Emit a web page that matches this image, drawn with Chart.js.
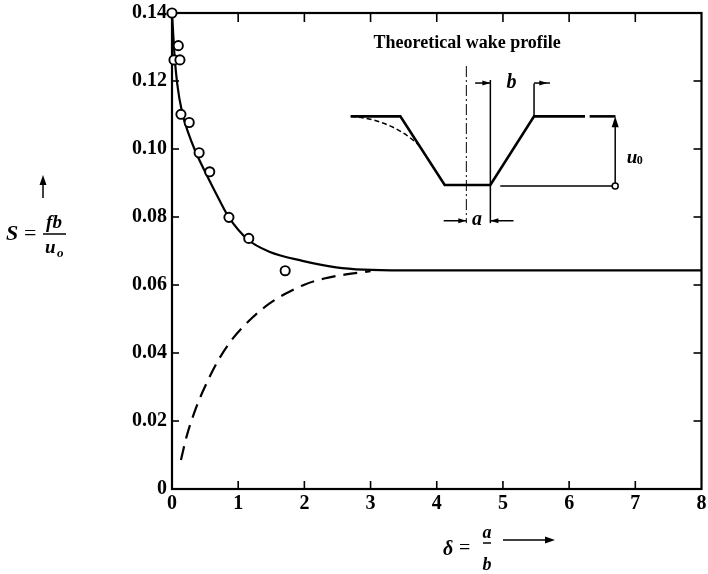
<!DOCTYPE html>
<html>
<head>
<meta charset="utf-8">
<script src="https://cdn.jsdelivr.net/npm/chart.js@4.4.1/dist/chart.umd.min.js"></script>
<style>
  html, body { margin: 0; padding: 0; background: #fff; }
  #wrap { width: 708px; height: 574px; }
</style>
</head>
<body>
<div id="wrap"><canvas id="wakeChart" width="708" height="574"></canvas></div>
<script>
// Measured points (open circles)
const measuredDelta = [0, 0.03, 0.095, 0.12, 0.135, 0.26, 0.41, 0.57, 0.86, 1.16, 1.71];
const measuredS = [0.140, 0.1262, 0.1304, 0.1262, 0.1102, 0.1078, 0.0989, 0.0933, 0.0799, 0.0737, 0.0642];

// Theory, trapezoidal wake (solid)
const upperDelta = [0, 0.04, 0.08, 0.15, 0.25, 0.35, 0.52, 0.70, 0.85, 1.15, 1.47, 1.97, 2.48, 2.9, 3.5, 8];
const upperS = [0.140, 0.127, 0.119, 0.111, 0.1045, 0.0995, 0.0925, 0.0856, 0.0802, 0.0733, 0.0698, 0.0671, 0.0652, 0.0645, 0.0643, 0.0643];

// Theory, rounded wake (dashed)
const lowerDelta = [0.135, 0.22, 0.37, 0.52, 0.70, 0.92, 1.22, 1.47, 1.72, 2.0, 2.3, 2.63, 3.0];
const lowerS = [0.0085, 0.0154, 0.0242, 0.0310, 0.0379, 0.0443, 0.0505, 0.0545, 0.0575, 0.0601, 0.0619, 0.0631, 0.0641];

const xTicks = [0, 1, 2, 3, 4, 5, 6, 7, 8];
const yTicks = [0, 0.02, 0.04, 0.06, 0.08, 0.10, 0.12, 0.14];

const SERIF = '"Liberation Serif", "Times New Roman", serif';
const toXY = (xs, ys) => xs.map((v, i) => ({ x: v, y: ys[i] }));

function line(ctx, x1, y1, x2, y2) {
    ctx.beginPath();
    ctx.moveTo(x1, y1);
    ctx.lineTo(x2, y2);
    ctx.stroke();
}

function arrowHead(ctx, x, y, angle, len, half) {
    ctx.save();
    ctx.translate(x, y);
    ctx.rotate(angle);
    ctx.beginPath();
    ctx.moveTo(0, 0);
    ctx.lineTo(-len, -half);
    ctx.lineTo(-len, half);
    ctx.closePath();
    ctx.fill();
    ctx.restore();
}

// frame with inward ticks on all four sides
const framePlugin = {
    id: 'frame',
    beforeDatasetsDraw(chart) {
        const { ctx, chartArea: a, scales: { x, y } } = chart;
        ctx.save();
        ctx.strokeStyle = '#000';
        ctx.lineWidth = 2.2;
        ctx.strokeRect(a.left, a.top, a.right - a.left, a.bottom - a.top);
        ctx.lineWidth = 1.6;
        xTicks.slice(1, -1).forEach(v => {
            const px = x.getPixelForValue(v);
            line(ctx, px, a.bottom, px, a.bottom - 8);
            line(ctx, px, a.top, px, a.top + 9);
        });
        yTicks.slice(1, -1).forEach(v => {
            const py = y.getPixelForValue(v);
            line(ctx, a.left, py, a.left + 7, py);
            line(ctx, a.right, py, a.right - 8, py);
        });
        // last x label runs off the page edge, so chart.js must not reserve room for it
        const last = xTicks[xTicks.length - 1];
        ctx.fillStyle = '#000';
        ctx.font = 'bold 20px ' + SERIF;
        ctx.textAlign = 'center';
        ctx.textBaseline = 'middle';
        ctx.fillText(String(last), x.getPixelForValue(last), a.bottom + 15);
        ctx.restore();
    }
};

// inset sketch of the wake profile + axis titles
const insetPlugin = {
    id: 'wakeInset',
    afterDatasetsDraw(chart) {
        const { ctx, scales: { x, y } } = chart;
        const X = v => x.getPixelForValue(v);
        const Y = v => y.getPixelForValue(v);
        const yTop = 0.1096, yBot = 0.0894, yB = 0.1194, yA = 0.0789;

        ctx.save();
        ctx.strokeStyle = '#000';
        ctx.fillStyle = '#000';
        ctx.lineJoin = 'miter';

        ctx.font = 'bold 18px ' + SERIF;
        ctx.textAlign = 'center';
        ctx.textBaseline = 'middle';
        ctx.fillText('Theoretical wake profile', X(4.46), Y(0.1312));

        // trapezoid profile
        ctx.lineWidth = 2.6;
        ctx.beginPath();
        [[2.70, yTop], [3.45, yTop], [4.12, yBot], [4.81, yBot], [5.47, yTop], [6.24, yTop]]
            .forEach(([dx, dy], i) => i ? ctx.lineTo(X(dx), Y(dy)) : ctx.moveTo(X(dx), Y(dy)));
        ctx.stroke();
        line(ctx, X(6.31), Y(yTop), X(6.70), Y(yTop));

        // rounded profile (dashed)
        ctx.lineWidth = 1.5;
        ctx.setLineDash([5, 3]);
        ctx.beginPath();
        ctx.moveTo(X(2.70), Y(yTop));
        ctx.quadraticCurveTo(X(3.30), Y(0.1088), X(3.72), Y(0.1013));
        ctx.stroke();

        // centre line (dash-dot)
        ctx.lineWidth = 1;
        ctx.setLineDash([11, 3, 2, 3]);
        line(ctx, X(4.447), Y(0.1244), X(4.447), Y(0.0782));
        ctx.setLineDash([]);

        // extension lines
        ctx.lineWidth = 1.5;
        line(ctx, X(4.81), Y(0.1203), X(4.81), Y(0.0782));
        line(ctx, X(5.47), Y(0.1193), X(5.47), Y(yTop));
        line(ctx, X(4.96), Y(0.0891), X(6.696), Y(0.0891));

        // b dimension
        line(ctx, X(4.58), Y(yB), X(4.81), Y(yB));
        arrowHead(ctx, X(4.81), Y(yB), 0, 8, 2.5);
        line(ctx, X(5.47), Y(yB), X(5.71), Y(yB));
        arrowHead(ctx, X(5.67), Y(yB), 0, 8, 2.5);

        // a dimension
        line(ctx, X(4.105), Y(yA), X(4.447), Y(yA));
        arrowHead(ctx, X(4.447), Y(yA), 0, 8, 2.5);
        line(ctx, X(5.16), Y(yA), X(4.81), Y(yA));
        arrowHead(ctx, X(4.81), Y(yA), Math.PI, 8, 2.5);

        // u0 arrow
        line(ctx, X(6.696), Y(0.0891), X(6.696), Y(yTop) + 4);
        arrowHead(ctx, X(6.696), Y(yTop), -Math.PI / 2, 11, 3.5);
        ctx.beginPath();
        ctx.arc(X(6.696), Y(0.0891), 3, 0, Math.PI * 2);
        ctx.fillStyle = '#fff';
        ctx.fill();
        ctx.stroke();
        ctx.fillStyle = '#000';

        ctx.font = 'italic bold 20px ' + SERIF;
        ctx.fillText('b', X(5.13), Y(yB));
        ctx.fillText('a', X(4.61), Y(yA) - 1);
        ctx.textAlign = 'left';
        ctx.font = 'italic bold 19px ' + SERIF;
        ctx.fillText('u', X(6.87), Y(0.0973));
        ctx.font = 'bold 12px ' + SERIF;
        ctx.fillText('0', X(6.87) + 10, Y(0.0973) + 3);

        // y-axis title: S = fb / u_o
        ctx.lineWidth = 1.5;
        line(ctx, 43, 198, 43, 182);
        arrowHead(ctx, 43, 175, -Math.PI / 2, 10, 3.5);
        ctx.textBaseline = 'alphabetic';
        ctx.font = 'italic bold 22px ' + SERIF;
        ctx.fillText('S', 6, 240);
        ctx.font = '22px ' + SERIF;
        ctx.fillText('=', 24, 240);
        ctx.font = 'italic bold 19px ' + SERIF;
        ctx.textAlign = 'center';
        ctx.fillText('fb', 54, 228);
        line(ctx, 43, 234, 66, 234);
        ctx.textAlign = 'left';
        ctx.fillText('u', 45, 253);
        ctx.font = 'italic bold 13px ' + SERIF;
        ctx.fillText('o', 57, 257);

        // x-axis title: delta = a / b
        ctx.font = 'italic bold 20px ' + SERIF;
        ctx.fillText('\u03b4', 443, 555);
        ctx.font = '20px ' + SERIF;
        ctx.fillText('=', 459, 554);
        ctx.font = 'italic bold 18px ' + SERIF;
        ctx.textAlign = 'center';
        ctx.fillText('a', 487, 538);
        line(ctx, 483, 543, 491, 543);
        ctx.fillText('b', 487, 570);
        line(ctx, 503, 540, 548, 540);
        arrowHead(ctx, 555, 540, 0, 10, 3.5);
        ctx.restore();
    }
};

const tickFont = { family: SERIF, size: 20, weight: 'bold' };

new Chart(document.getElementById('wakeChart'), {
    type: 'line',
    data: {
        datasets: [{
            label: 'Measured',
            type: 'scatter',
            data: toXY(measuredDelta, measuredS),
            pointRadius: 4.6,
            pointBackgroundColor: '#fff',
            pointBorderColor: '#000',
            pointBorderWidth: 1.9,
            showLine: false,
            clip: false,
            order: 0
        }, {
            label: 'Trapezoidal profile',
            data: toXY(upperDelta, upperS),
            borderColor: '#000',
            borderWidth: 2.2,
            pointRadius: 0,
            cubicInterpolationMode: 'monotone',
            fill: false,
            clip: false,
            order: 1
        }, {
            label: 'Rounded profile',
            data: toXY(lowerDelta, lowerS),
            borderColor: '#000',
            borderWidth: 2.2,
            borderDash: [14, 8],
            pointRadius: 0,
            cubicInterpolationMode: 'monotone',
            fill: false,
            clip: false,
            order: 2
        }]
    },
    options: {
        responsive: false,
        animation: false,
        devicePixelRatio: 1,
        layout: { padding: { top: 13, right: 1, left: 0, bottom: 0 } },
        plugins: {
            legend: { display: false },
            tooltip: { enabled: false }
        },
        scales: {
            x: {
                type: 'linear',
                min: 0,
                max: 8,
                afterBuildTicks: s => { s.ticks = xTicks.map(v => ({ value: v })); },
                ticks: {
                    padding: 3, color: '#000', font: tickFont, maxRotation: 0, autoSkip: false,
                    callback: v => v === xTicks[xTicks.length - 1] ? '' : String(v)
                },
                grid: { display: false, drawTicks: false },
                border: { display: false },
                afterFit: s => { s.height = 85; s.paddingLeft = 0; s.paddingRight = 0; }
            },
            y: {
                type: 'linear',
                min: 0,
                max: 0.14,
                afterBuildTicks: s => { s.ticks = yTicks.map(v => ({ value: v })); },
                ticks: {
                    padding: 5, color: '#000', font: tickFont, autoSkip: false,
                    callback: v => v === 0 ? '0' : v.toFixed(2)
                },
                grid: { display: false, drawTicks: false },
                border: { display: false },
                afterFit: s => { s.width = 172; s.paddingTop = 0; s.paddingBottom = 0; }
            }
        }
    },
    plugins: [framePlugin, insetPlugin]
});
</script>
</body>
</html>
